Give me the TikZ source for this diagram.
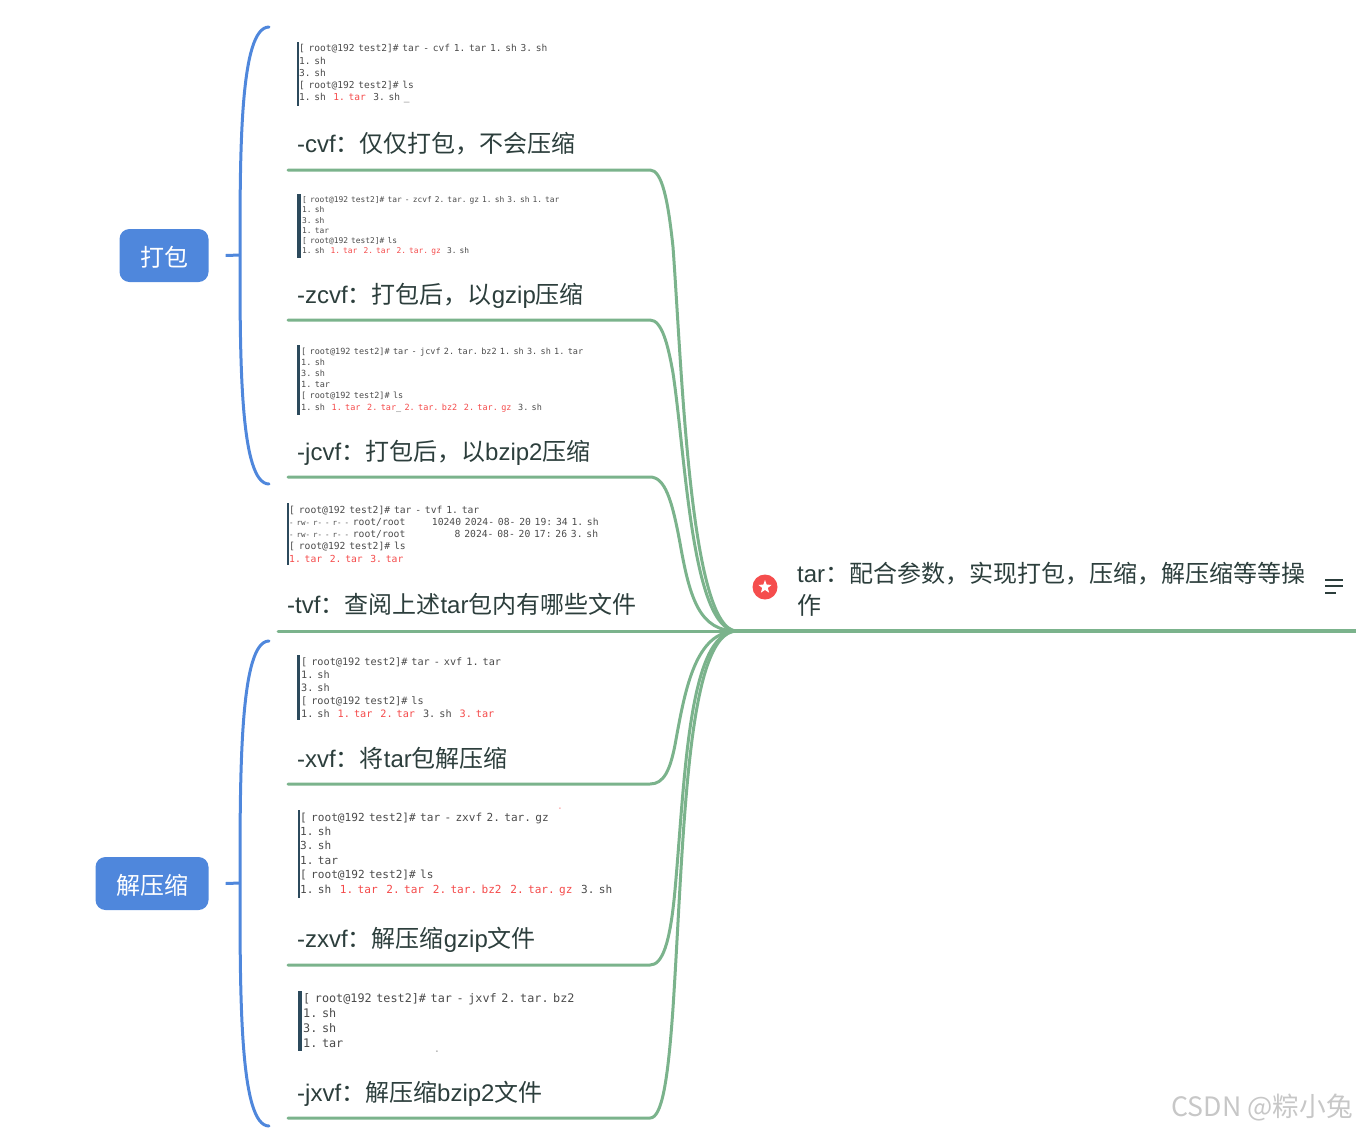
\documentclass[tikz,border=0pt]{standalone}
\usepackage{fontspec}
\setmainfont{Noto Sans CJK SC}
\newfontfamily\termfont[WordSpace=0.65]{DejaVu Sans Mono}
\newfontfamily\latinfont{Liberation Sans}
\usetikzlibrary{shapes.geometric, positioning}
\definecolor{branchgreen}{HTML}{7BB38C}
\definecolor{branchblue}{HTML}{4F87DC}
\definecolor{labelink}{HTML}{2C3E3C}
\definecolor{termink}{HTML}{4A4A4A}
\definecolor{termred}{HTML}{F44A4A}
\definecolor{termbar}{HTML}{2C4A5C}
\definecolor{starred}{HTML}{F54D4D}
\newcommand{\tred}[1]{\textcolor{termred}{#1}}
\newcommand{\la}[1]{{\latinfont #1}}
\newcommand{\termperm}{{\fontsize{7.5}{12}\selectfont - rw- r- - r- -}}
\newcommand{\prompt}{{[} root@192 test2{]}\#}

\begin{document}
\frenchspacing
\begin{tikzpicture}[
    x=1pt, y=-1pt,
    align=left,
    label/.style={anchor=base west, inner sep=0pt, text=labelink, font=\fontsize{24}{32}\selectfont},
    term/.style n args={2}{anchor=north west, inner xsep=1pt, inner ysep=2.5pt, text=termink, font=\termfont\fontsize{#1}{#2}\selectfont},
    bar/.style={draw=termbar, line width=#1},
    branch/.style={draw=branchgreen, line width=3pt, line cap=round},
    group/.style={draw=none, fill=branchblue, rounded corners=10pt, minimum height=53pt, text=white, align=center, font=\fontsize{24}{30}\selectfont},
    brace/.style={draw=branchblue, line width=3pt, line cap=round},
    tick/.style={inner sep=0pt, font=\termfont\fontsize{7}{7}\selectfont}
]
    \useasboundingbox (0,0) rectangle (1356,1130);

    % Root
    \coordinate (hub) at (737,631);
    \coordinate (rootEnd) at (1356,631);
    \node[circle, fill=starred, minimum size=25pt, inner sep=0pt] (rootBadge) at (765,587) {};
    \node[star, star points=5, star point ratio=2.4, fill=white, minimum size=14pt, inner sep=0pt] (rootStar) at (rootBadge) {};
    \node[anchor=north west, inner sep=0pt, text=labelink, text width=520pt, font=\fontsize{24}{32}\selectfont] (root) at (797,562) {\la{tar}：配合参数，实现打包，压缩，解压缩等等操\\作};
    \draw[branch, line width=3.5pt] (hub) -- (rootEnd);
    \draw[labelink, line width=1.6pt] (1325,580) -- (1343,580) (1325,586) -- (1343,586) (1325,593) -- (1336,593);

    % Terminals
    \node[term={9.55}{12.2}] (termCvf) at (298,42) {\prompt{} tar - cvf 1. tar 1. sh 3. sh\\1. sh\\3. sh\\\prompt{} ls\\1. sh~~\tred{1. tar}~~3. sh \_};
    \node[term={7.9}{10.2}] (termZcvf) at (301,194) {\prompt{} tar - zcvf 2. tar. gz 1. sh 3. sh 1. tar\\1. sh\\3. sh\\1. tar\\\prompt{} ls\\1. sh~~\tred{1. tar}~~\tred{2. tar}~~\tred{2. tar. gz}~~3. sh};
    \node[term={8.5}{11.2}] (termJcvf) at (300,345) {\prompt{} tar - jcvf 2. tar. bz2 1. sh 3. sh 1. tar\\1. sh\\3. sh\\1. tar\\\prompt{} ls\\1. sh~~\tred{1. tar}~~\tred{2. tar}\_ \tred{2. tar. bz2}~~\tred{2. tar. gz}~~3. sh};
    \node[term={9.7}{12.3}] (termTvf) at (288,503) {\prompt{} tar - tvf 1. tar\\\termperm{}~root/root~~~~~~~10240 2024- 08- 20 19: 34 1. sh\\\termperm{}~root/root~~~~~~~~~~~~~8 2024- 08- 20 17: 26 3. sh\\\prompt{} ls\\\tred{1. tar}~~\tred{2. tar}~~\tred{3. tar}};
    \node[term={10.2}{13}] (termXvf) at (300,655) {\prompt{} tar - xvf 1. tar\\1. sh\\3. sh\\\prompt{} ls\\1. sh~~\tred{1. tar}~~\tred{2. tar}~~3. sh~~\tred{3. tar}};
    \node[term={11.1}{14.4}] (termZxvf) at (299,810) {\prompt{} tar - zxvf 2. tar. gz\\1. sh\\3. sh\\1. tar\\\prompt{} ls\\1. sh~~\tred{1. tar}~~\tred{2. tar}~~\tred{2. tar. bz2}~~\tred{2. tar. gz}~~3. sh};
    \node[term={11.8}{15}] (termJxvf) at (302,991) {\prompt{} tar - jxvf 2. tar. bz2\\1. sh\\3. sh\\1. tar};
    \node[tick, text=termred] (tickZxvf) at (560,809) {-};
    \node[tick, text=termink] (tickJxvf) at (437,1052) {-};

    \draw[bar=1.5pt] (termCvf.north west) -- (termCvf.south west);
    \draw[bar=4pt] ([xshift=-2pt]termZcvf.north west) -- ([xshift=-2pt]termZcvf.south west);
    \draw[bar=3pt] ([xshift=-1.5pt]termJcvf.north west) -- ([xshift=-1.5pt]termJcvf.south west);
    \draw[bar=1.5pt] (termTvf.north west) -- (termTvf.south west);
    \draw[bar=3pt] ([xshift=-1.5pt]termXvf.north west) -- ([xshift=-1.5pt]termXvf.south west);
    \draw[bar=1.5pt] (termZxvf.north west) -- (termZxvf.south west);
    \draw[bar=4pt] ([xshift=-2pt]termJxvf.north west) -- ([xshift=-2pt]termJxvf.south west);

    % Labels
    \node[label] (cvf) at (297,152) {\la{-cvf}：仅仅打包，不会压缩};
    \node[label] (zcvf) at (297,303) {\la{-zcvf}：打包后，以\la{gzip}压缩};
    \node[label] (jcvf) at (297,460) {\la{-jcvf}：打包后，以\la{bzip2}压缩};
    \node[label] (tvf) at (287,613) {\la{-tvf}：查阅上述\la{tar}包内有哪些文件};
    \node[label] (xvf) at (297,767) {\la{-xvf}：将\la{tar}包解压缩};
    \node[label] (zxvf) at (297,947) {\la{-zxvf}：解压缩\la{gzip}文件};
    \node[label] (jxvf) at (297,1101) {\la{-jxvf}：解压缩\la{bzip2}文件};

    % Branches
    \coordinate (cvfStart) at (288,170);
    \coordinate (zcvfStart) at (288,320);
    \coordinate (jcvfStart) at (288,477);
    \coordinate (tvfStart) at (278,631);
    \coordinate (xvfStart) at (288,784);
    \coordinate (zxvfStart) at (288,965);
    \coordinate (jxvfStart) at (288,1118);
    \draw[branch] (cvfStart) -- (650,170) .. controls (662,170) and (668,200) .. (673,247) .. controls (682,370) and (690,631) .. (hub);
    \draw[branch] (zcvfStart) -- (650,320) .. controls (662,320) and (668,345) .. (673,373) .. controls (686,460) and (692,631) .. (hub);
    \draw[branch] (jcvfStart) -- (650,477) .. controls (665,477) and (672,500) .. (680,543) .. controls (690,600) and (700,631) .. (hub);
    \draw[branch] (tvfStart) -- (hub);
    \draw[branch] (xvfStart) -- (650,784) .. controls (664,784) and (670,770) .. (675,745) .. controls (685,690) and (695,631) .. (hub);
    \draw[branch] (zxvfStart) -- (650,965) .. controls (662,965) and (670,945) .. (675,890) .. controls (685,780) and (688,631) .. (hub);
    \draw[branch] (jxvfStart) -- (650,1118) .. controls (662,1118) and (668,1080) .. (673,1008) .. controls (684,840) and (686,631) .. (hub);

    % Groups
    \node[group, minimum width=89pt] (pack) at (164,255.5) {\raisebox{-2pt}[\height][\depth]{打包}};
    \node[group, minimum width=113pt] (unpack) at (152,883.5) {\raisebox{-2pt}[\height][\depth]{解压缩}};
    \coordinate (packJoin) at (240,255);
    \coordinate (packTop) at (269,27);
    \coordinate (packBottom) at (269,484);
    \coordinate (unpackJoin) at (240,883);
    \coordinate (unpackTop) at (269,641);
    \coordinate (unpackBottom) at (269,1126);
    \draw[brace, line cap=butt] ([xshift=17pt]pack.east) -- (packJoin);
    \draw[brace, line cap=butt] ([xshift=17pt]unpack.east) -- (unpackJoin);
    \draw[brace] (packTop) .. controls (240,27) and (240,150) .. (packJoin) .. controls (240,360) and (240,484) .. (packBottom);
    \draw[brace] (unpackTop) .. controls (240,641) and (240,770) .. (unpackJoin) .. controls (240,1000) and (240,1126) .. (unpackBottom);

    % Watermark
    \node[anchor=base east, inner sep=0pt, text=black!22, font=\fontsize{26.7}{30}\selectfont] (mark) at (1353,1116) {CSDN @粽小兔};
\end{tikzpicture}
\end{document}
